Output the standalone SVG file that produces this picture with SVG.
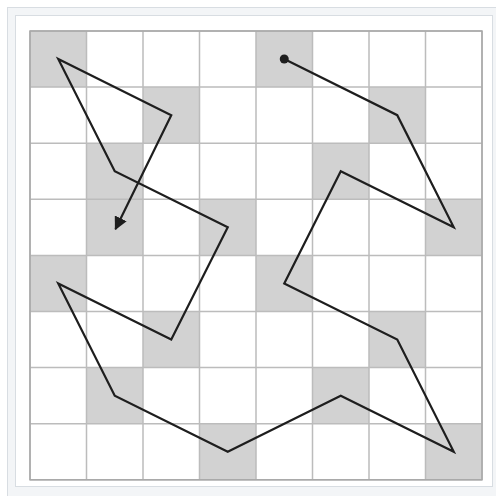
<svg xmlns="http://www.w3.org/2000/svg" width="496" height="496" viewBox="0 0 496 496">
<defs>
<style>
.cell{fill:#d2d2d2}
.grid{stroke:#bcbcbc;stroke-width:1.5;fill:none}
.path{stroke:#1e1e1e;stroke-width:2.2;fill:none;stroke-linejoin:miter}
</style>
<marker id="arrow" viewBox="0 0 10 10" refX="9" refY="5" markerWidth="6" markerHeight="6" orient="auto" markerUnits="strokeWidth">
<path d="M0,0 L10,5 L0,10 z" fill="#1e1e1e"/>
</marker>
</defs>
<rect x="0" y="0" width="496" height="496" fill="#ffffff"/>
<rect x="7.5" y="7.5" width="495" height="495" fill="#f3f5f7" stroke="#d8dde2" stroke-width="1"/>
<rect x="15.5" y="15.5" width="477" height="471" fill="#ffffff" stroke="#d8dde2" stroke-width="1"/>
<g id="board">
<g id="shaded">
<rect class="cell" x="30" y="31" width="56.5" height="56.1"/>
<rect class="cell" x="256" y="31" width="56.5" height="56.1"/>
<rect class="cell" x="143" y="87.1" width="56.5" height="56.1"/>
<rect class="cell" x="369" y="87.1" width="56.5" height="56.1"/>
<rect class="cell" x="86.5" y="143.2" width="56.5" height="56.1"/>
<rect class="cell" x="312.5" y="143.2" width="56.5" height="56.1"/>
<rect class="cell" x="86.5" y="199.3" width="56.5" height="56.1"/>
<rect class="cell" x="199.5" y="199.3" width="56.5" height="56.1"/>
<rect class="cell" x="425.5" y="199.3" width="56.5" height="56.1"/>
<rect class="cell" x="30" y="255.4" width="56.5" height="56.1"/>
<rect class="cell" x="256" y="255.4" width="56.5" height="56.1"/>
<rect class="cell" x="143" y="311.5" width="56.5" height="56.1"/>
<rect class="cell" x="369" y="311.5" width="56.5" height="56.1"/>
<rect class="cell" x="86.5" y="367.6" width="56.5" height="56.1"/>
<rect class="cell" x="312.5" y="367.6" width="56.5" height="56.1"/>
<rect class="cell" x="199.5" y="423.7" width="56.5" height="56.1"/>
<rect class="cell" x="425.5" y="423.7" width="56.5" height="56.1"/>
</g>
<g id="gridlines" class="grid">
<path d="M30,31V480M86.5,31V480M143,31V480M199.5,31V480M256,31V480M312.5,31V480M369,31V480M425.5,31V480M482,31V480"/>
<path d="M30,31H482M30,87.1H482M30,143.2H482M30,199.3H482M30,255.4H482M30,311.5H482M30,367.6H482M30,423.7H482M30,479.8H482"/>
<rect x="30" y="31" width="452" height="448.8" stroke="#a8a8a8"/>
</g>
</g>
<g id="connectors">
<circle cx="284.25" cy="59.05" r="4.5" fill="#1e1e1e"/>
<path class="path" marker-end="url(#arrow)" d="M284.25,59.05 L397.25,115.15 L453.75,227.35 L340.75,171.25 L284.25,283.45 L397.25,339.55 L453.75,451.75 L340.75,395.65 L227.75,451.75 L114.75,395.65 L58.25,283.45 L171.25,339.55 L227.75,227.35 L114.75,171.25 L58.25,59.05 L171.25,115.15 L115.5,229"/>
</g>
</svg>
